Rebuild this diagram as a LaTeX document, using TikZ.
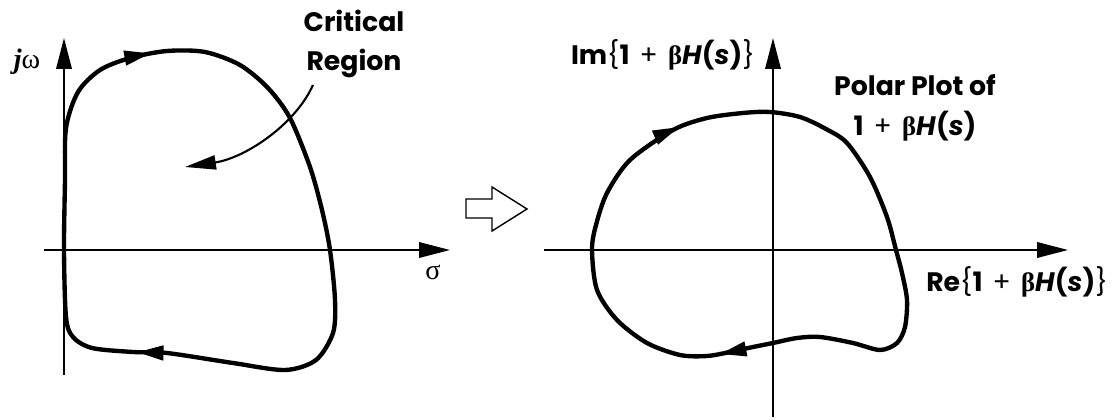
\documentclass[tikz,border=0pt]{standalone}
\usepackage{fontspec}
\setmainfont{Poppins}
\newfontfamily\greekfont{Liberation Serif}
\usetikzlibrary{arrows.meta,decorations.markings}
\newcommand{\oneBH}{\textbf{1}\, {\mdseries+}\, {\greekfont β}\textbf{\textit{H}}\textbf{(}\textbf{\textit{s}}\textbf{)}}

\begin{document}
\begin{tikzpicture}[x=0.025cm, y=-0.025cm,
    axis/.style={line width=1.4pt, -{Triangle[length=22pt,width=11pt]}},
    contour/.style={line width=3.1pt, line join=round},
    pointer/.style={line width=1.5pt, -{Triangle[length=22pt,width=10pt]}},
    twoarrows/.style 2 args={postaction={decorate}, decoration={markings,
        mark=at position #1 with {\arrow{Triangle[length=19pt,width=10pt]}},
        mark=at position #2 with {\arrow{Triangle[length=19pt,width=10pt]}}}},
    lbl/.style={font=\fontsize{19}{28}\selectfont\bfseries, inner sep=0pt, align=center},
    greek/.style={font=\fontsize{20}{24}\selectfont\greekfont, inner sep=0pt}]
    \useasboundingbox (0,0) rectangle (1120,420);
    % s-plane
    \coordinate (sLeft) at (44,250);
    \coordinate (sRight) at (450,250);
    \coordinate (sBottom) at (64,375);
    \coordinate (sTop) at (64,38);
    \draw[axis] (sLeft) -- (sRight);
    \draw[axis] (sBottom) -- (sTop);
    \node[greek] (jw) at (27,62) {{\bfseries\itshape j}ω};
    \node[greek] (sigma) at (433,272) {σ};
    \draw[contour, twoarrows={0.085}{0.685}] plot[smooth cycle] coordinates {
        (66,128) (78,92) (100,70) (130,58) (167,51) (205,52) (240,65) (268,88)
        (290,118) (310,167) (322,210) (330,250) (335,300) (333,333) (316,360)
        (285,370) (233,363) (167,353) (133,352) (92,348) (73,337) (66,317)
        (64,250) (65,180)};
    \node[lbl] (crit) at (354,44) {Critical\\Region};
    \coordinate (critStart) at (313,85);
    \coordinate (critTip) at (185,167);
    \draw[pointer] (critStart) .. controls (295,125) and (245,158) .. (critTip);
    % hollow arrow
    \draw[line width=1pt, line join=miter] (466,199) -- (492,199) -- (492,187)
        -- (527,209) -- (492,231) -- (492,218) -- (466,218) -- cycle;
    % polar plot
    \coordinate (pLeft) at (544,250);
    \coordinate (pRight) at (1068,250);
    \coordinate (pBottom) at (773,417);
    \coordinate (pTop) at (773,38);
    \draw[axis] (pLeft) -- (pRight);
    \draw[axis] (pBottom) -- (pTop);
    \node[lbl, anchor=east] (im) at (755,55) {Im{\mdseries\{}\oneBH{\mdseries\}}};
    \node[lbl, anchor=west] (re) at (926,282) {Re{\mdseries\{}\oneBH{\mdseries\}}};
    \node[lbl] (polar) at (915,108) {Polar Plot of\\\oneBH};
    \draw[contour, twoarrows={0.145}{0.767}] plot[smooth cycle] coordinates {
        (592,250) (596,225) (607,193) (630,160) (673,130) (707,118) (743,113)
        (770,112) (800,117) (826,129) (847,143) (870,177) (887,217) (896,250)
        (902,273) (907,300) (905,327) (897,343) (880,350) (853,343) (820,337)
        (797,338) (773,343) (753,347) (730,352) (707,356) (680,355) (647,343)
        (617,320) (597,290)};
\end{tikzpicture}
\end{document}
